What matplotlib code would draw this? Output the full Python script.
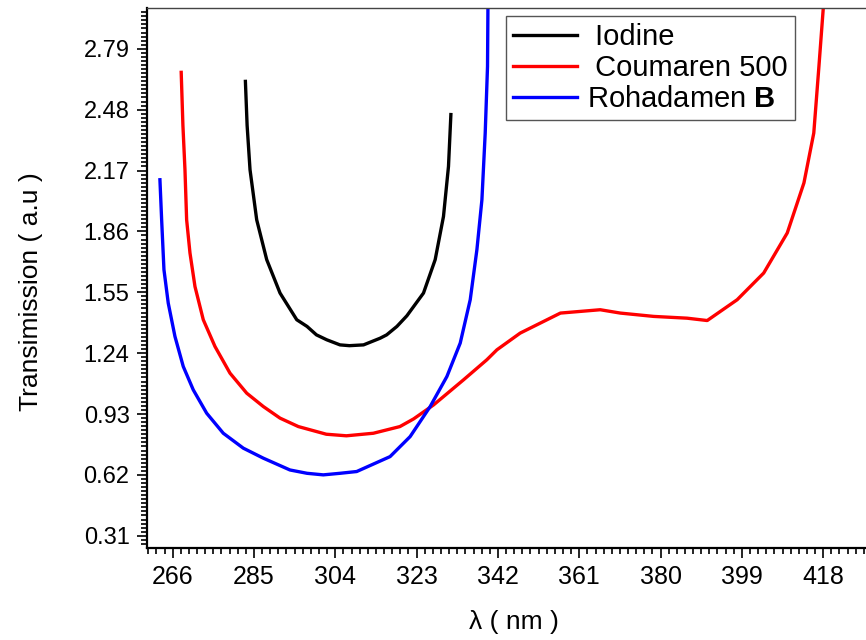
import numpy as np
import matplotlib
matplotlib.use('Agg')
import matplotlib.pyplot as plt
from matplotlib.ticker import FixedLocator, FormatStrFormatter

plt.rcParams['font.family'] = ['Liberation Sans', 'DejaVu Sans']
plt.rcParams['mathtext.fontset'] = 'custom'
plt.rcParams['mathtext.rm'] = 'Liberation Sans'
plt.rcParams['mathtext.bf'] = 'Liberation Sans:bold'

# ── DATA ─────────────────────────────────────────────────────────────────────
iodine_wl = [283.0, 283.4, 284.08, 285.64, 287.98, 291.09, 295.0, 297.4,
             299.6, 302.0, 305.1, 307.3, 310.6, 314.48, 316.0, 318.4, 320.72,
             324.61, 327.34, 329.28, 330.45, 331.01]
iodine_t = [2.624, 2.40, 2.174, 1.919, 1.716, 1.546, 1.41, 1.376,
            1.333, 1.308, 1.282, 1.278, 1.282, 1.316, 1.333, 1.376, 1.43,
            1.546, 1.716, 1.936, 2.191, 2.455]

coumaren_wl = [268.0, 268.4, 268.88, 269.27, 270.05, 271.22, 273.16, 275.89,
               279.40, 283.31, 287.19, 291.09, 295.37, 301.9, 306.6, 312.9,
               319.1, 322.3, 326.95, 333.96, 339.4, 341.77, 347.2,
               356.6, 365.9, 370.6, 378.4, 386.2, 390.9, 397.9, 404.1, 409.6,
               413.5, 415.8, 417.0, 418.2]
coumaren_t = [2.67, 2.40, 2.174, 1.919, 1.75, 1.579, 1.41, 1.274,
              1.138, 1.036, 0.968, 0.909, 0.866, 0.827, 0.819, 0.832,
              0.866, 0.905, 0.976, 1.104, 1.206, 1.257, 1.342,
              1.444, 1.461, 1.444, 1.427, 1.418, 1.406, 1.512, 1.648, 1.852,
              2.107, 2.361, 2.70, 3.05]

rohadamen_wl = [263.03, 263.43, 263.97, 264.97, 266.54, 268.48, 270.82,
                273.95, 277.83, 282.51, 287.19, 293.4, 297.4, 301.2, 305.1,
                309.0, 316.8, 321.49, 326.17, 330.08, 333.19, 335.53, 337.09,
                338.26, 339.03, 339.57, 339.7]
rohadamen_t = [2.123, 1.919, 1.665, 1.495, 1.325, 1.172, 1.053,
               0.934, 0.832, 0.756, 0.705, 0.645, 0.628, 0.62, 0.628,
               0.637, 0.713, 0.815, 0.968, 1.121, 1.291, 1.512, 1.767,
               2.021, 2.361, 2.70, 3.10]

x_ticks = [266, 285, 304, 323, 342, 361, 380, 399, 418]
y_ticks = [0.31, 0.62, 0.93, 1.24, 1.55, 1.86, 2.17, 2.48, 2.79]

# ── PLOT ─────────────────────────────────────────────────────────────────────
fig = plt.figure(figsize=(8.66, 6.4), dpi=100, facecolor='white')
ax = fig.add_axes([0.1697, 0.1445, 0.8303, 0.8437])

lw = 2.4
ax.plot(iodine_wl, iodine_t, color='black', lw=lw, label=' Iodine',
        solid_joinstyle='round')
ax.plot(coumaren_wl, coumaren_t, color='#ff0000', lw=lw, label=' Coumaren 500',
        solid_joinstyle='round')
ax.plot(rohadamen_wl, rohadamen_t, color='#0000ff', lw=lw,
        label=r'Rohadamen $\mathbf{B}$', solid_joinstyle='round')

ax.set_xlim(260, 428)
ax.set_ylim(0.25, 3.0)

ax.xaxis.set_major_locator(FixedLocator(x_ticks))
ax.yaxis.set_major_locator(FixedLocator(y_ticks))
ax.xaxis.set_minor_locator(FixedLocator(np.arange(260.3, 428, 1.9)))
ax.yaxis.set_minor_locator(FixedLocator(0.31 + (0.31 / 15) * np.arange(-3, 130)))
ax.yaxis.set_major_formatter(FormatStrFormatter('%.2f'))

ax.tick_params(which='both', direction='out', top=False, right=False,
               width=1.2, color='black')
ax.tick_params(which='major', length=7.5)
ax.tick_params(which='minor', length=4.3)
ax.tick_params(axis='y', which='major', labelsize=17, pad=5)
ax.tick_params(axis='x', which='major', labelsize=18, pad=5)

for side in ['left', 'bottom']:
    ax.spines[side].set_linewidth(1.6)
ax.spines['top'].set_linewidth(1.0)
ax.spines['top'].set_color('#444444')
ax.spines['right'].set_visible(False)

ax.set_xlabel('λ ( nm )', fontsize=19)
ax.xaxis.set_label_coords(0.51, -0.115)
ax.set_ylabel('Transimission ( a.u )', fontsize=19)
ax.yaxis.set_label_coords(-0.145, 0.474)

leg = ax.legend(loc='upper left', bbox_to_anchor=(0.584, 0.9755),
                bbox_transform=fig.transFigure, borderaxespad=0,
                fontsize=21, fancybox=False, framealpha=1,
                handlelength=2.2, handletextpad=0.35, labelspacing=0.1,
                borderpad=0.25)
leg.get_frame().set_edgecolor('#555555')
leg.get_frame().set_linewidth(1.0)

fig.savefig('out.png', dpi=100)
